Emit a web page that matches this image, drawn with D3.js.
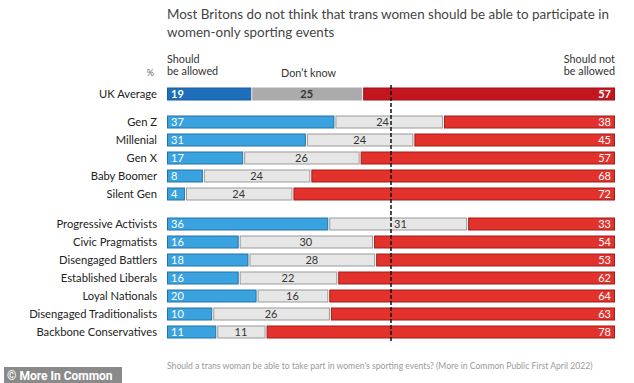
<!DOCTYPE html>
<html>
<head>
<meta charset="utf-8">
<script src="https://cdn.jsdelivr.net/npm/d3@7"></script>
<style>
  body { margin: 0; background: #fff; }
  svg { display: block; font-family: Lato, "Open Sans", sans-serif; }
</style>
</head>
<body>
<div id="chart"></div>
<script>
// ── Data ────────────────────────────────────────────────────────────────────
const GROUPS = [
    "UK Average",
    "Gen Z", "Millenial", "Gen X", "Baby Boomer", "Silent Gen",
    "Progressive Activists", "Civic Pragmatists", "Disengaged Battlers",
    "Established Liberals", "Loyal Nationals", "Disengaged Traditionalists",
    "Backbone Conservatives",
];
const ALLOWED   = [19, 37, 31, 17, 8, 4, 36, 16, 18, 16, 20, 10, 11];
const DONT_KNOW = [25, 24, 24, 26, 24, 24, 31, 30, 28, 22, 16, 26, 11];
const NOT_ALLOWED = [57, 38, 45, 57, 68, 72, 33, 54, 53, 62, 64, 63, 78];
// which block each row belongs to (gaps between blocks)
const BLOCK = [0, 1, 1, 1, 1, 1, 2, 2, 2, 2, 2, 2, 2];

const TITLE = [
    "Most Britons do not think that trans women should be able to participate in",
    "women-only sporting events",
];
const SOURCE = "Should a trans woman be able to take part in women's sporting events? (More in Common Public First April 2022)";

// ── Layout ──────────────────────────────────────────────────────────────────
const W = 634, H = 383;
const x0 = 167, x1 = 615;
const barH = 13;

const svg = d3.select("#chart").append("svg")
    .attr("width", W).attr("height", H);

const x = d3.scaleLinear().domain([0, 1]).range([x0, x1]);
const xMid = x(0.5);

// row centre: UK avg at 94, then blocks of 18px rows
function rowY(i) {
    if (i === 0) return 94;
    if (BLOCK[i] === 1) return 122 + (i - 1) * 18;
    return 224 + (i - 6) * 18;
}

const rows = GROUPS.map((g, i) => {
    const vals = [ALLOWED[i], DONT_KNOW[i], NOT_ALLOWED[i]];
    const total = d3.sum(vals);
    let acc = 0;
    const segs = vals.map((v, k) => {
        const s = { k, v, a: acc / total, b: (acc + v) / total, avg: i === 0 };
        acc += v;
        return s;
    });
    return { g, i, segs };
});

const COLORS_AVG = [
    { fill: "#1e6fb9", stroke: "#1a5f9e" },
    { fill: "#ababab", stroke: "#ababab" },
    { fill: "#c3161f", stroke: "#a01018" },
];
const COLORS = [
    { fill: "#3aa3df", stroke: "#2672a3" },
    { fill: "#e6e6e6", stroke: "#9a9a9a" },
    { fill: "#e3312b", stroke: "#9e1f1b" },
];

// ── Title ───────────────────────────────────────────────────────────────────
svg.append("g").selectAll("text").data(TITLE).join("text")
    .attr("x", x0).attr("y", (d, i) => 19 + i * 18)
    .attr("font-size", 13.4).attr("fill", "#444")
    .text(d => d);

// ── Header ──────────────────────────────────────────────────────────────────
const hdr = svg.append("g").attr("font-size", 10.8).attr("fill", "#333");
hdr.append("text").attr("x", 154).attr("y", 76).attr("text-anchor", "end")
    .attr("font-size", 9).attr("fill", "#666").text("%");
hdr.append("text").attr("x", x0).attr("y", 63).text("Should");
hdr.append("text").attr("x", x0).attr("y", 75).text("be allowed");
hdr.append("text").attr("x", 281).attr("y", 77).text("Don\u2019t know");
hdr.append("text").attr("x", x1).attr("y", 63).attr("text-anchor", "end").text("Should not");
hdr.append("text").attr("x", x1).attr("y", 75).attr("text-anchor", "end").text("be allowed");

// ── Bars ────────────────────────────────────────────────────────────────────
const rowG = svg.append("g").selectAll("g").data(rows).join("g")
    .attr("transform", d => `translate(0,${rowY(d.i)})`);

rowG.append("text")
    .attr("x", 157).attr("y", 0).attr("dy", "0.35em")
    .attr("text-anchor", "end").attr("font-size", 11.2).attr("fill", "#222")
    .text(d => d.g);

rowG.selectAll("rect").data(d => d.segs)
    .join("rect")
    .attr("x", s => x(s.a) + (s.k > 0 ? 1 : 0) + 0.5)
    .attr("y", -barH / 2 + 0.5)
    .attr("width", s => Math.max(0, x(s.b) - x(s.a) - (s.k > 0 ? 1 : 0) - 1))
    .attr("height", barH - 1)
    .attr("fill", s => (s.avg ? COLORS_AVG : COLORS)[s.k].fill)
    .attr("stroke", s => (s.avg ? COLORS_AVG : COLORS)[s.k].stroke)
    .attr("stroke-width", 1);

// label position: blue at start, red at end, grey centred but kept off the 50% line
function labelPos(s) {
    if (s.k === 0) return { x: x(s.a) + 4, anchor: "start" };
    if (s.k === 2) return { x: x(s.b) - 4, anchor: "end" };
    const c = (x(s.a) + x(s.b)) / 2;
    if (!s.avg && Math.abs(c - xMid) < 10) {
        return c < xMid ? { x: xMid - 2, anchor: "end" } : { x: xMid + 3, anchor: "start" };
    }
    return { x: c, anchor: "middle" };
}

rowG.selectAll("text.val").data(d => d.segs)
    .join("text")
    .attr("class", "val")
    .attr("x", s => labelPos(s).x)
    .attr("y", 0).attr("dy", "0.36em")
    .attr("text-anchor", s => labelPos(s).anchor)
    .attr("font-size", 11)
    .attr("font-weight", s => s.avg ? "bold" : "normal")
    .attr("fill", s => s.k === 1 ? "#333" : "#fff")
    .text(s => s.v);

// ── 50% dashed line ─────────────────────────────────────────────────────────
svg.append("line")
    .attr("x1", xMid).attr("x2", xMid)
    .attr("y1", 85).attr("y2", 341)
    .attr("stroke", "#111").attr("stroke-width", 1.5)
    .attr("stroke-dasharray", "4,2");

// ── Source + credit ─────────────────────────────────────────────────────────
svg.append("text")
    .attr("x", x0).attr("y", 369)
    .attr("font-size", 8.6).attr("fill", "#9a9a9a")
    .text(SOURCE);

svg.append("rect")
    .attr("x", 4).attr("y", 367).attr("width", 118).attr("height", 16)
    .attr("fill", "#8a8a8a");
svg.append("text")
    .attr("x", 7).attr("y", 379.5)
    .attr("font-size", 12).attr("font-weight", "bold").attr("fill", "#fff")
    .attr("font-family", "Roboto, sans-serif")
    .text("\u00a9 More In Common");
</script>
</body>
</html>
